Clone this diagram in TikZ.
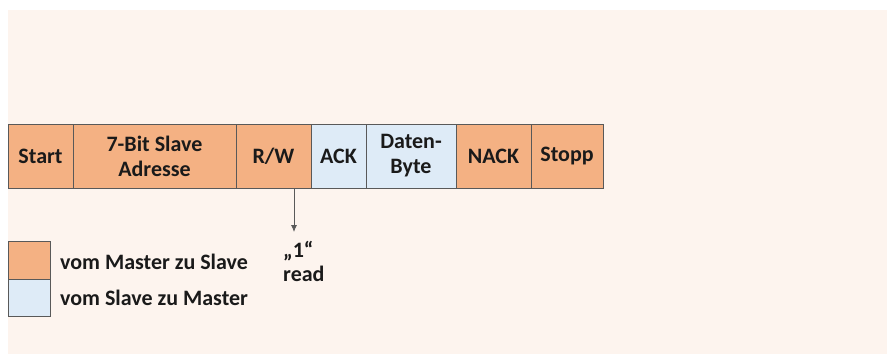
\documentclass[tikz,border=0pt]{standalone}
\usepackage{fontspec}
\setmainfont{Carlito}
\usetikzlibrary{arrows.meta}
\definecolor{panel}{HTML}{FDF4EE}
\definecolor{mastercol}{HTML}{F4B183}
\definecolor{slavecol}{HTML}{DEEBF7}
\definecolor{edge}{HTML}{595959}
\definecolor{ink}{HTML}{1A1A1A}
\tikzset{
  field/.style={draw=edge, line width=0.9pt, minimum height=64pt, inner sep=0pt,
    align=center, text=ink, font=\fontsize{22}{25}\selectfont\bfseries},
  fromM/.style={field, fill=mastercol},
  fromS/.style={field, fill=slavecol},
  legbox/.style={draw=edge, line width=0.9pt, minimum width=42pt, minimum height=37.5pt, inner sep=0pt},
  label/.style={anchor=west, inner sep=0pt, text=ink, font=\fontsize{22}{24}\selectfont\bfseries, align=left},
}
\begin{document}
\begin{tikzpicture}[x=1pt, y=-1pt]
  \useasboundingbox (0,0) rectangle (887,354);
  \fill[panel] (8,10) rectangle (887,354);

  % frame fields
  \node[fromM, minimum width=65pt]  (start) at (40.5,156) {Start};
  \node[fromM, minimum width=163pt] (addr)  at (154.5,156) {7-Bit Slave\\Adresse};
  \node[fromM, minimum width=75pt]  (rw)    at (273.5,156) {R/W};
  \node[fromS, minimum width=55pt]  (ack)   at (338.5,156) {ACK};
  \node[fromS, minimum width=90pt]  (data)  at (411,156) {Daten-\\Byte};
  \node[fromM, minimum width=75pt]  (nack)  at (493.5,156) {NACK};
  \node[fromM, minimum width=72pt]  (stop)  at (567,156) {Stopp};

  % R/W bit value
  \coordinate (tip) at (294,232);
  \draw[edge, line width=0.8pt, -{Latex[length=7pt,width=6pt]}] (rw.south -| tip) -- (tip);
  \node[label] (rwval) at (283,261) {„1“\\read};

  % legend
  \node[legbox, fill=mastercol] (lm) at (29,260.5) {};
  \node[legbox, fill=slavecol]  (ls) at (29,298) {};
  \node[label] (lmt) at (60,262) {vom Master zu Slave};
  \node[label] (lst) at (60,298) {vom Slave zu Master};
\end{tikzpicture}
\end{document}
